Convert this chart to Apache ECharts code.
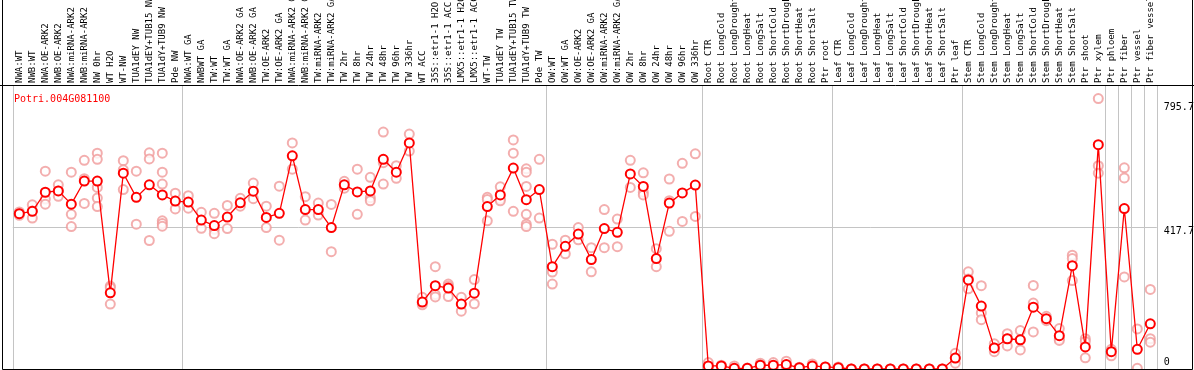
<!DOCTYPE html>
<html><head><meta charset="utf-8">
<script src="https://cdn.jsdelivr.net/npm/echarts@6/dist/echarts.min.js"></script>
<style>html,body{margin:0;padding:0;background:#fff;}#c{width:1194px;height:370px;}</style>
</head><body><div id="c"></div>
<script>
const geneId = 'Potri.004G081100';
const categories = [
  'NWA:WT','NWB:WT','NWA:OE-ARK2','NWB:OE-ARK2','NWA:miRNA-ARK2','NWB:miRNA-ARK2','NW 0hr','WT H2O','WT-NW','TUA1dEY NW','TUA1dEY+TUB15 NW','TUA1dY+TUB9 NW','Pde NW',
  'NWA:WT GA','NWBWT GA','TW:WT','TW:WT GA','NWA:OE-ARK2 GA','NWB:OE-ARK2 GA','TW:OE-ARK2','TW:OE-ARK2 GA','NWA:miRNA-ARK2 GA','NWB:miRNA-ARK2 GA','TW:miRNA-ARK2','TW:miRNA-ARK2 GA','TW 2hr','TW 8hr','TW 24hr','TW 48hr','TW 96hr','TW 336hr','WT ACC','35S::etr1-1 H2O','35S::etr1-1 ACC','LMX5::etr1-1 H2O','LMX5::etr1-1 ACC','WT-TW','TUA1dEY TW','TUA1dEY+TUB15 TW','TUA1dY+TUB9 TW','Pde TW',
  'OW:WT','OW:WT GA','OW:OE-ARK2','OW:OE-ARK2 GA','OW:miRNA-ARK2','OW:miRNA-ARK2 GA','OW 2hr','OW 8hr','OW 24hr','OW 48hr','OW 96hr','OW 336hr',
  'Root CTR','Root LongCold','Root LongDrought','Root LongHeat','Root LongSalt','Root ShortCold','Root ShortDrought','Root ShortHeat','Root ShortSalt','Ptr root',
  'Leaf CTR','Leaf LongCold','Leaf LongDrought','Leaf LongHeat','Leaf LongSalt','Leaf ShortCold','Leaf ShortDrought','Leaf ShortHeat','Leaf ShortSalt','Ptr leaf',
  'Stem CTR','Stem LongCold','Stem LongDrought','Stem LongHeat','Stem LongSalt','Stem ShortCold','Stem ShortDrought','Stem ShortHeat','Stem ShortSalt','Ptr shoot','Ptr xylem',
  'Ptr phloem','Ptr fiber','Ptr vessel','Ptr fiber vessel'
];
const means = [
  457,464,520,524,485,553,553,224,576,505,542,512,494,
  491,438,422,447,489,523,446,458,627,469,469,416,542,521,524,617,579,665,197,245,238,191,223,478,512,591,498,528,
  301,361,397,322,413,402,574,537,325,488,518,541,
  9,9,2,2,11,11,13,4,9,6,
  4,0,0,0,0,0,0,0,0,32,
  262,185,62,89,86,182,148,98,304,65,660,
  51,472,58,133
];
const replicates = [
  [462,452,457],[483,465,444],[582,500,485],[542,524,508],[579,455,419],[614,560,487],[635,617,534,503,478],[244,239,191],[613,586,528],[582,426],[636,618,378],[635,579,544,436,428,420],[517,494,471],
  [510,473],[461,414],[458,411,398],[481,413],[502,479],[547,501],[479,416],[538,379],[665,588],[507,438],[488,453],[484,345],[552,532],[588,455],[564,504,495],[697,607,544],[598,561],[691,641],[211,195,189],[301,219,212],[250,244,213],[211,170],[263,192],[505,499,436],[536,500,495],[674,635,464],[589,579,537,455,426,419],[617,444],
  [367,285,250],[379,339],[416,380],[357,286],[469,357],[441,360],[614,534],[577,520,512],[354,301],[559,495,405],[605,434],[633,449],
  [19,6,2],[11,7],[9,0],[3,1],[17,11,4],[19,4],[23,11,4],[5,3],[15,4],[6],
  [6,2],[0,0],[0,0],[0,0],[0,0],[0,0],[0,0],[0,0],[0,0],[46,32,17],
  [286,265,236],[245,165,145],[74,62,51],[104,89,68],[113,86,56],[246,194,109],[155,142],[119,88,84],[335,325,260],[89,81,33],[795.7,598,576],
  [58,39],[592,562,271],[118,2],[234,89,79]
];
const yTickValues = [0, 417.7, 795.7];
const yGridValues = [417.7];
const yMax = 835.5;
const groupStarts = [0, 13, 41, 53, 63, 73, 84, 85, 86, 87];

const repPoints = [];
replicates.forEach((arr, i) => arr.forEach(v => repPoints.push([i, v])));
const isBoundary = (idx) => groupStarts.indexOf(idx) >= 0;
const mono = 'DejaVu Sans Mono';
const topTick = yTickValues[yTickValues.length - 1];

const chart = echarts.init(document.getElementById('c'), null, {renderer: 'canvas'});
chart.setOption({
  animation: false,
  backgroundColor: '#fff',
  title: {
    text: geneId, left: 9, top: 89,
    textStyle: {color: '#ff0000', fontSize: 10, fontFamily: mono, fontWeight: 'normal'}
  },
  grid: {left: 12.8, right: 37.2, top: 85, bottom: 1, containLabel: false, outerBoundsMode: 'none'},
  xAxis: {
    type: 'category', position: 'top', data: categories, boundaryGap: true,
    axisLine: {show: true, lineStyle: {color: '#000', width: 1}},
    axisTick: {show: true, interval: isBoundary, length: 85, inside: false, lineStyle: {color: '#c4c4c4', width: 1}},
    splitLine: {show: true, interval: isBoundary, lineStyle: {color: '#c4c4c4', width: 1}},
    axisLabel: {interval: 0, rotate: 90, margin: 2, fontSize: 9, fontFamily: mono, color: '#000'}
  },
  yAxis: {
    type: 'value', position: 'right', min: 0, max: yMax,
    axisLine: {show: false},
    axisTick: {show: false, customValues: yGridValues},
    splitLine: {show: true, lineStyle: {color: '#c4c4c4', width: 1}},
    axisLabel: {
      customValues: yTickValues, margin: 7, fontSize: 10, fontFamily: mono, color: '#000',
      formatter: v => v === 0 ? '{lo|0}' : (v === topTick ? '{hi|' + v + '}' : '{mid|' + v + '}'),
      rich: {
        hi: {padding: [18, 0, 0, 0], fontSize: 10, fontFamily: mono},
        mid: {padding: [8, 0, 0, 0], fontSize: 10, fontFamily: mono},
        lo: {padding: [0, 0, 14, 0], fontSize: 10, fontFamily: mono}
      }
    }
  },
  graphic: [
    {type: 'rect', silent: true, shape: {x: 2.5, y: -2, width: 1190, height: 371.5}, style: {fill: 'none', stroke: '#000', lineWidth: 1}, z: 100},
    {type: 'line', silent: true, shape: {x1: 0, y1: 85.5, x2: 1194, y2: 85.5}, style: {stroke: '#000', lineWidth: 1}, z: 100}
  ],
  series: [
    {
      type: 'scatter', data: repPoints, symbol: 'emptyCircle', symbolSize: 9, z: 2,
      itemStyle: {color: '#f09a9a', borderColor: '#f09a9a', borderWidth: 1.5}
    },
    {
      type: 'line', data: means, symbol: 'emptyCircle', symbolSize: 9, z: 3,
      lineStyle: {color: '#ff0000', width: 1.3},
      itemStyle: {color: '#ff0000', borderColor: '#ff0000', borderWidth: 2}
    }
  ]
});
</script>
</body></html>
